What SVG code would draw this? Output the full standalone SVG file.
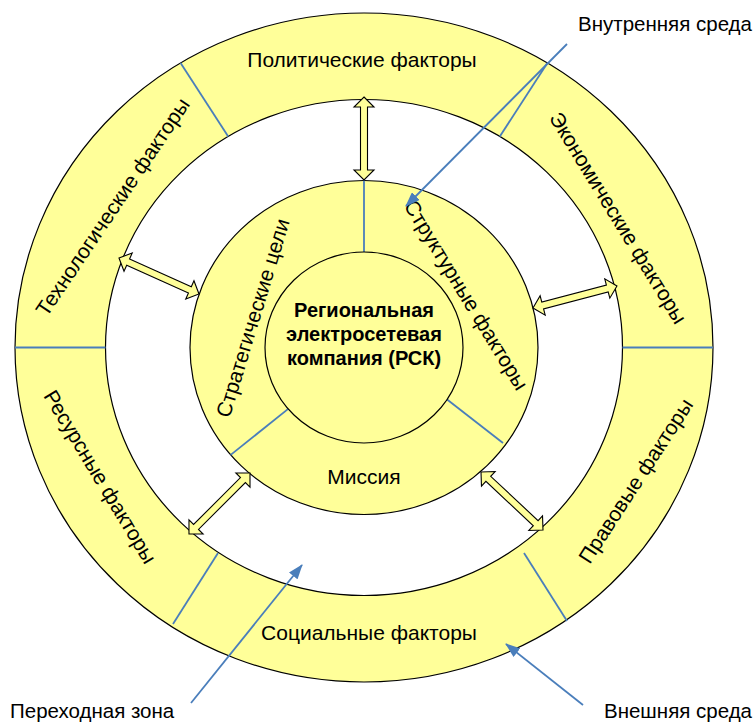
<svg xmlns="http://www.w3.org/2000/svg" width="756" height="725" viewBox="0 0 756 725">
<defs>
<style>
.ring{fill:#ffff99;stroke:#000;stroke-width:1.2}
.gap{fill:#fff;stroke:#000;stroke-width:1.2}
.div{stroke:#4a7ebb;stroke-width:1.8;fill:none}
.blk{fill:#ffff99;stroke:#000;stroke-width:1.1;stroke-linejoin:miter}
.ptr{stroke:#4a7ebb;stroke-width:1.8;fill:none}
.t{font-family:"Liberation Sans",Arial,sans-serif;font-size:21px;fill:#000;text-anchor:middle}
.b{font-weight:bold;font-size:20px}
.lbl{font-family:"Liberation Sans",Arial,sans-serif;font-size:20.5px;fill:#000}
</style>
<marker id="ah" viewBox="0 0 15 11" refX="14" refY="5.5" markerWidth="15" markerHeight="11" markerUnits="userSpaceOnUse" orient="auto">
<path d="M0,0 L15,5.5 L0,11 z" fill="#4a7ebb"/>
</marker>
</defs>
<rect width="756" height="725" fill="#fff"/>

<g id="outer-ring">
<ellipse class="ring" cx="364" cy="347.5" rx="349" ry="334.5"/>
<ellipse class="gap" cx="364" cy="347.5" rx="258.5" ry="248"/>
<line class="div" x1="15" y1="347.5" x2="105.5" y2="347.5"/>
<line class="div" x1="622.5" y1="347.5" x2="713" y2="347.5"/>
<line class="div" x1="180.6" y1="62.9" x2="228.2" y2="136.5"/>
<line class="div" x1="547.4" y1="62.9" x2="499.8" y2="136.5"/>
<line class="div" x1="173" y1="624" x2="218" y2="553"/>
<line class="div" x1="567" y1="621" x2="524" y2="553"/>
</g>

<g id="middle-ring">
<ellipse class="ring" cx="364" cy="347.5" rx="174" ry="167"/>
<line class="div" x1="364" y1="180.5" x2="364" y2="252"/>
<line class="div" x1="230.7" y1="454.9" x2="288.2" y2="408.9"/>
<line class="div" x1="447.1" y1="399.5" x2="503" y2="443"/>
</g>

<g id="core">
<ellipse class="ring" cx="364" cy="347.5" rx="99" ry="95.5"/>
<text class="t b" x="364" y="316.5">Региональная</text>
<text class="t b" x="364" y="341">электросетевая</text>
<text class="t b" x="364" y="365">компания (РСК)</text>
</g>

<g id="political"><text class="t" x="362" y="67">Политические факторы</text></g>
<g id="economic"><text class="t" transform="translate(618,218) rotate(58.6)" y="7">Экономические факторы</text></g>
<g id="legal"><text class="t" transform="translate(636,481) rotate(-57)" y="7">Правовые факторы</text></g>
<g id="social"><text class="t" x="369" y="640">Социальные факторы</text></g>
<g id="resource"><text class="t" transform="translate(100,477) rotate(59)" y="7">Ресурсные факторы</text></g>
<g id="technology"><text class="t" transform="translate(113,207) rotate(-56)" y="7">Технологические факторы</text></g>
<g id="structural"><text class="t" transform="translate(466,295) rotate(58.6)" y="7">Структурные факторы</text></g>
<g id="strategic"><text class="t" transform="translate(253,318) rotate(-73)" y="7">Стратегические цели</text></g>
<g id="mission"><text class="t" x="364" y="484">Миссия</text></g>

<g id="connectors">
<polygon class="blk" transform="translate(364,97) rotate(90)" points="0,0 10,-10 10,-3.5 73,-3.5 73,-10 83,0 73,10 73,3.5 10,3.5 10,10"/>
<polygon class="blk" transform="translate(119,258) rotate(24.2)" points="0,0 10,-10 10,-3.5 77.7,-3.5 77.7,-10 87.7,0 77.7,10 77.7,3.5 10,3.5 10,10"/>
<polygon class="blk" transform="translate(533,308) rotate(-14.7)" points="0,0 10,-10 10,-3.5 76.8,-3.5 76.8,-10 86.8,0 76.8,10 76.8,3.5 10,3.5 10,10"/>
<polygon class="blk" transform="translate(250,473) rotate(135)" points="0,0 10,-10 10,-3.5 76.3,-3.5 76.3,-10 86.3,0 76.3,10 76.3,3.5 10,3.5 10,10"/>
<polygon class="blk" transform="translate(481,472) rotate(43.1)" points="0,0 10,-10 10,-3.5 74.9,-3.5 74.9,-10 84.9,0 74.9,10 74.9,3.5 10,3.5 10,10"/>
<line class="ptr" x1="567" y1="44" x2="406" y2="206" marker-end="url(#ah)"/>
<line class="ptr" x1="191" y1="703" x2="302" y2="565" marker-end="url(#ah)"/>
<line class="ptr" x1="583" y1="705" x2="506" y2="644" marker-end="url(#ah)"/>
</g>

<g id="labels">
<text class="lbl" x="752" y="31" text-anchor="end">Внутренняя среда</text>
<text class="lbl" x="10" y="718">Переходная зона</text>
<text class="lbl" x="752" y="718" text-anchor="end">Внешняя среда</text>
</g>
</svg>
